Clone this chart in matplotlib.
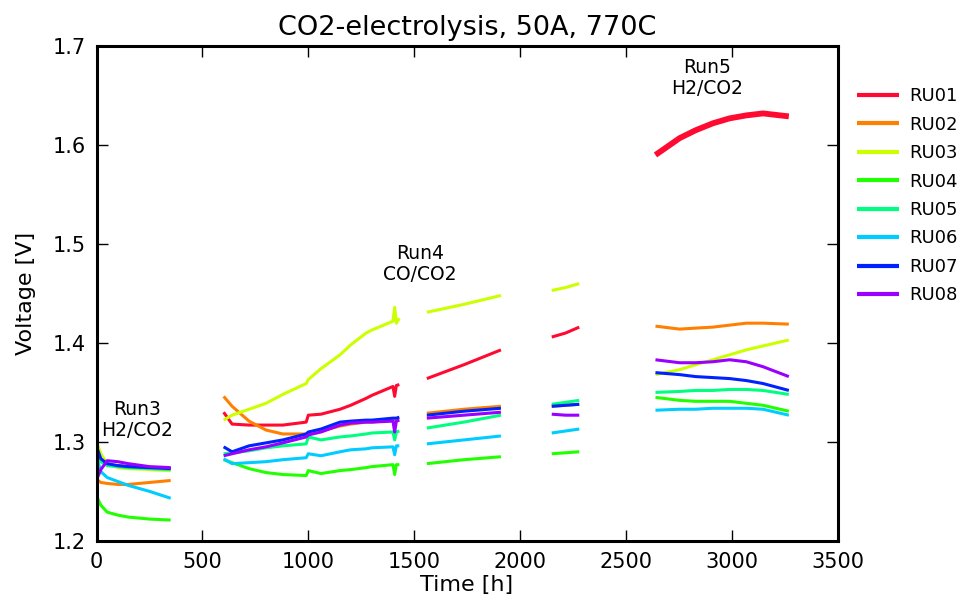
import matplotlib.pyplot as plt

# sampled voltages per cell, one list of (hours, volts) per run segment
names = ["RU01", "RU02", "RU03", "RU04", "RU05", "RU06", "RU07", "RU08"]
colors = ["#ff0a30", "#ff8000", "#ccff00", "#22ff00", "#00ff80", "#00ccff", "#0022ff", "#9900ff"]

# Run3 (H2/CO2), 0-350 h
run3_t = [0, 20, 50, 100, 150, 250, 350]
run3 = {
    "RU01": [1.292, 1.282, 1.277, 1.276, 1.275, 1.274, 1.273],
    "RU02": [1.262, 1.259, 1.258, 1.257, 1.257, 1.259, 1.261],
    "RU03": [1.300, 1.288, 1.278, 1.274, 1.273, 1.272, 1.271],
    "RU04": [1.245, 1.236, 1.229, 1.226, 1.224, 1.222, 1.221],
    "RU05": [1.290, 1.280, 1.276, 1.275, 1.274, 1.273, 1.272],
    "RU06": [1.285, 1.270, 1.264, 1.260, 1.256, 1.250, 1.243],
    "RU07": [1.295, 1.283, 1.278, 1.276, 1.275, 1.274, 1.273],
    "RU08": [1.262, 1.272, 1.281, 1.280, 1.278, 1.275, 1.274],
}

# Run4 (CO/CO2), first block 600-1430 h (step at 1000 h, glitch at ~1408 h)
run4a_t = [600, 640, 720, 800, 880, 990, 1000, 1060, 1150, 1200, 1273, 1300, 1400, 1408, 1416, 1430]
run4a = {
    "RU01": [1.330, 1.318, 1.317, 1.317, 1.317, 1.320, 1.327, 1.328, 1.333, 1.337, 1.344, 1.347, 1.356, 1.346, 1.357, 1.358],
    "RU02": [1.346, 1.336, 1.321, 1.312, 1.308, 1.308, 1.309, 1.311, 1.316, 1.318, 1.320, 1.320, 1.322, 1.322, 1.322, 1.322],
    "RU03": [1.322, 1.327, 1.333, 1.339, 1.348, 1.359, 1.363, 1.374, 1.388, 1.398, 1.410, 1.413, 1.422, 1.436, 1.420, 1.425],
    "RU04": [1.282, 1.279, 1.273, 1.269, 1.267, 1.266, 1.271, 1.268, 1.271, 1.272, 1.274, 1.275, 1.277, 1.267, 1.277, 1.277],
    "RU05": [1.288, 1.289, 1.291, 1.294, 1.296, 1.298, 1.305, 1.302, 1.305, 1.306, 1.308, 1.309, 1.310, 1.302, 1.310, 1.311],
    "RU06": [1.283, 1.278, 1.279, 1.280, 1.282, 1.284, 1.288, 1.286, 1.290, 1.292, 1.293, 1.294, 1.295, 1.287, 1.296, 1.296],
    "RU07": [1.295, 1.290, 1.296, 1.299, 1.302, 1.308, 1.310, 1.313, 1.320, 1.321, 1.322, 1.322, 1.324, 1.324, 1.324, 1.325],
    "RU08": [1.286, 1.288, 1.292, 1.295, 1.299, 1.305, 1.307, 1.310, 1.317, 1.319, 1.320, 1.320, 1.321, 1.310, 1.321, 1.322],
}

# Run4, second block 1560-1910 h
run4b_t = [1560, 1735, 1910]
run4b = {
    "RU01": [1.364, 1.378, 1.393],
    "RU02": [1.329, 1.333, 1.336],
    "RU03": [1.431, 1.439, 1.448],
    "RU04": [1.278, 1.282, 1.285],
    "RU05": [1.314, 1.320, 1.327],
    "RU06": [1.298, 1.302, 1.306],
    "RU07": [1.327, 1.331, 1.334],
    "RU08": [1.324, 1.327, 1.330],
}

# Run4, third block 2150-2280 h
run4c_t = [2150, 2215, 2280]
run4c = {
    "RU01": [1.406, 1.410, 1.416],
    "RU02": [1.336, 1.337, 1.338],
    "RU03": [1.453, 1.456, 1.460],
    "RU04": [1.288, 1.289, 1.290],
    "RU05": [1.338, 1.340, 1.342],
    "RU06": [1.309, 1.311, 1.313],
    "RU07": [1.336, 1.337, 1.338],
    "RU08": [1.328, 1.327, 1.327],
}

# Run5 (H2/CO2), 2640-3270 h
run5_t = [2640, 2754, 2830, 2911, 2990, 3069, 3148, 3270]
run5 = {
    "RU01": [1.590, 1.607, 1.615, 1.622, 1.627, 1.630, 1.632, 1.629],
    "RU02": [1.417, 1.414, 1.415, 1.416, 1.418, 1.420, 1.420, 1.419],
    "RU03": [1.368, 1.373, 1.378, 1.383, 1.388, 1.393, 1.397, 1.403],
    "RU04": [1.345, 1.342, 1.341, 1.341, 1.341, 1.339, 1.337, 1.331],
    "RU05": [1.350, 1.351, 1.352, 1.352, 1.353, 1.353, 1.352, 1.348],
    "RU06": [1.332, 1.333, 1.333, 1.334, 1.334, 1.334, 1.333, 1.327],
    "RU07": [1.370, 1.368, 1.366, 1.365, 1.364, 1.362, 1.359, 1.352],
    "RU08": [1.383, 1.380, 1.380, 1.381, 1.383, 1.381, 1.376, 1.366],
}

segments = [(run3_t, run3), (run4a_t, run4a), (run4b_t, run4b), (run4c_t, run4c), (run5_t, run5)]

plt.rcParams["font.family"] = "DejaVu Sans"
fig = plt.figure(figsize=(9.66, 6.07), dpi=100)
ax = fig.add_axes([0.100, 0.109, 0.767, 0.815])

for name, col in zip(names, colors):
    for i, (t, seg) in enumerate(segments):
        # RU01 in run 5 is very noisy, so it reads as a thick band
        lw = 4.2 if (name == "RU01" and seg is run5) else 2.2
        ax.plot(t, seg[name], color=col, lw=lw,
                label=name if i == 0 else None, solid_capstyle="butt")

ax.text(190, 1.302, "Run3\nH2/CO2", ha="center", va="bottom", fontsize=13.5, linespacing=1.1)
ax.text(1526, 1.460, "Run4\nCO/CO2", ha="center", va="bottom", fontsize=13.5, linespacing=1.1)
ax.text(2886, 1.648, "Run5\nH2/CO2", ha="center", va="bottom", fontsize=13.5, linespacing=1.1)

ax.set_xlim(0, 3500)
ax.set_ylim(1.2, 1.7)
ax.set_xticks(range(0, 3501, 500))
ax.set_yticks([1.2, 1.3, 1.4, 1.5, 1.6, 1.7])
ax.tick_params(direction="in", top=True, right=True, length=8, width=1, labelsize=15, pad=8)
for sp in ax.spines.values():
    sp.set_linewidth(2.2)

ax.set_title("CO2-electrolysis, 50A, 770C", fontsize=19.5, pad=8)
ax.set_xlabel("Time [h]", fontsize=16, labelpad=2)
ax.set_ylabel("Voltage [V]", fontsize=16, labelpad=12)

leg = ax.legend(loc="upper left", bbox_to_anchor=(1.005, 0.95), frameon=False,
                fontsize=13, labelspacing=0.58, handlelength=2.3, handletextpad=0.55)
for line in leg.get_lines():
    line.set_linewidth(3)

fig.savefig("out.png", dpi=100)
